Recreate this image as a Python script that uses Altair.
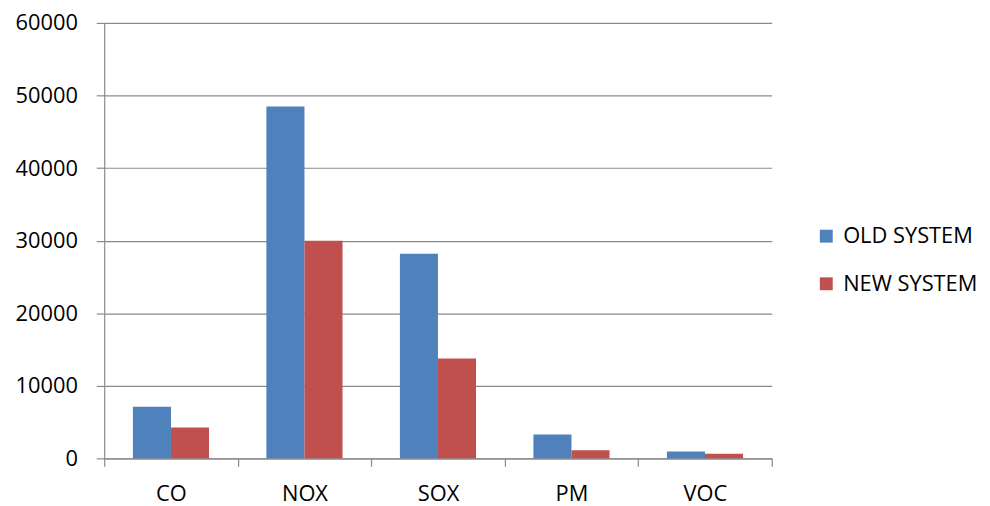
import altair as alt
import pandas as pd

pollutants = ["CO", "NOX", "SOX", "PM", "VOC"]
old_system = [7100, 48500, 28200, 3300, 950]
new_system = [4250, 30000, 13750, 1100, 650]
series = ["OLD SYSTEM", "NEW SYSTEM"]
colors = ["#4F81BD", "#C0504D"]
y_ticks = [0, 10000, 20000, 30000, 40000, 50000, 60000]

rows = []
for i, p in enumerate(pollutants):
    rows.append({"pollutant": p, "system": series[0], "value": old_system[i]})
    rows.append({"pollutant": p, "system": series[1], "value": new_system[i]})
df = pd.DataFrame(rows)

FONT = "Open Sans"
GRAY = "#8a8a8a"

chart = alt.Chart(df).mark_bar().encode(
    x=alt.X("pollutant:N", sort=pollutants, title=None,
            scale=alt.Scale(paddingInner=0, paddingOuter=0),
            axis=alt.Axis(labelAngle=0, tickBand="extent", grid=False,
                          domainColor=GRAY, tickColor=GRAY, tickSize=8,
                          labelPadding=18, labelFontSize=22, labelFont=FONT,
                          labelColor="#000000")),
    xOffset=alt.XOffset("system:N", sort=series,
                        scale=alt.Scale(paddingInner=0, paddingOuter=0.754)),
    y=alt.Y("value:Q", title=None,
            scale=alt.Scale(domain=[0, 60000], nice=False),
            axis=alt.Axis(values=y_ticks, format="d", grid=True, gridColor=GRAY,
                          domainColor=GRAY, tickColor=GRAY, tickSize=8,
                          labelPadding=19, labelFontSize=22, labelFont=FONT,
                          labelColor="#000000")),
    color=alt.Color("system:N", sort=series,
                    scale=alt.Scale(domain=series, range=colors),
                    legend=alt.Legend(title=None, orient="none", legendX=717, legendY=204,
                                      symbolType="square", symbolSize=169,
                                      symbolStrokeWidth=0, labelFontSize=22,
                                      labelFont=FONT, labelColor="#000000",
                                      labelOffset=6, rowPadding=26, padding=0)),
).properties(
    width=673, height=439,
    autosize=alt.AutoSizeParams(type="none"),
    padding={"left": 97, "top": 13, "right": 212, "bottom": 46},
).configure_view(stroke=None).configure_axis(domainWidth=1.2, gridWidth=1.2, tickWidth=1.2)

chart.save("out.html", embed_options={"renderer": "svg", "actions": False})
